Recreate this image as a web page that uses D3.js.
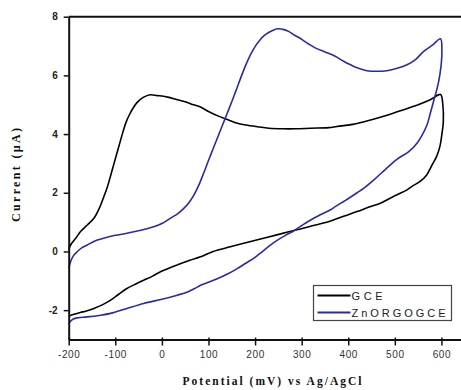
<!DOCTYPE html>
<html>
<head>
<meta charset="utf-8">
<script src="https://cdn.jsdelivr.net/npm/d3@7"></script>
<style>
  html, body { margin: 0; padding: 0; background: #fff; }
  svg { display: block; }
</style>
</head>
<body>
<svg id="chart" width="461" height="390"></svg>
<script>
// ---- data ----
const seriesNames = ["GCE", "ZnORGOGCE"];
const seriesColors = ["#000000", "#2a2aa8"];
const xTicks = [-200, -100, 0, 100, 200, 300, 400, 500, 600];
const yTicks = [-2, 0, 2, 4, 6, 8];
const xLabel = "Potential (mV) vs Ag/AgCl";
const yLabel = "Current (\u00B5A)";

// GCE cyclic voltammogram: [potential mV, current µA]
const gce = [
  [-200, 0.05], [-196, 0.22], [-185, 0.45], [-175, 0.67], [-160, 0.9], [-146, 1.13],
  [-135, 1.45], [-125, 1.85], [-117, 2.2], [-108, 2.7], [-100, 3.15], [-92, 3.6],
  [-84, 4.05], [-77, 4.4], [-70, 4.65], [-62, 4.88], [-53, 5.08], [-40, 5.25], [-25, 5.34],
  [-10, 5.31], [0, 5.30], [15, 5.25], [33, 5.17], [50, 5.1], [68, 5.0], [83, 4.92],
  [100, 4.77], [120, 4.62], [143, 4.48], [160, 4.38], [180, 4.31], [205, 4.25],
  [230, 4.2], [260, 4.18], [287, 4.18], [320, 4.2], [358, 4.22], [376, 4.26],
  [410, 4.33], [448, 4.48], [485, 4.65], [519, 4.83], [550, 5.0], [576, 5.17],
  [598, 5.35], [603, 5.0], [604, 4.4], [601, 4.0], [597, 3.6], [590, 3.25],
  [580, 2.95], [568, 2.6], [555, 2.4], [540, 2.25], [526, 2.1], [500, 1.9],
  [469, 1.64], [448, 1.53], [419, 1.36], [390, 1.2], [362, 1.04], [330, 0.9],
  [290, 0.74], [255, 0.6], [218, 0.45], [180, 0.3], [147, 0.16], [110, 0.0],
  [83, -0.18], [60, -0.3], [33, -0.46], [15, -0.57], [-3, -0.69], [-20, -0.84],
  [-39, -0.98], [-55, -1.1], [-75, -1.26], [-92, -1.45], [-110, -1.66], [-128, -1.82],
  [-146, -1.94], [-162, -2.03], [-175, -2.08], [-188, -2.14], [-196, -2.18], [-200, -2.2]
];

// ZnORGOGCE cyclic voltammogram
const znorgo = [
  [-200, -0.58], [-196, -0.35], [-190, -0.15], [-182, -0.01], [-172, 0.12], [-160, 0.22],
  [-145, 0.35], [-125, 0.45], [-100, 0.55], [-75, 0.62], [-45, 0.72], [-18, 0.84],
  [0, 0.95], [18, 1.13], [35, 1.3], [47, 1.47], [58, 1.66], [68, 1.9], [79, 2.25],
  [90, 2.68], [100, 3.1], [110, 3.5], [120, 3.9], [130, 4.3], [140, 4.7],
  [150, 5.1], [160, 5.52], [170, 5.95], [180, 6.35], [190, 6.7], [200, 6.98],
  [210, 7.2], [220, 7.36], [230, 7.47], [240, 7.55], [250, 7.59], [262, 7.56],
  [272, 7.5], [286, 7.36], [301, 7.22], [315, 7.07], [330, 6.93], [350, 6.8],
  [372, 6.65], [390, 6.48], [405, 6.36], [422, 6.24], [440, 6.16], [460, 6.14],
  [483, 6.16], [505, 6.24], [526, 6.36], [545, 6.55], [562, 6.82], [580, 7.02],
  [598, 7.25], [601, 6.85], [599, 6.3], [594, 5.79], [589, 5.45], [583, 5.11],
  [576, 4.7], [569, 4.31], [558, 3.95], [548, 3.7], [530, 3.4], [505, 3.15],
  [480, 2.8], [455, 2.44], [433, 2.15], [419, 2.0], [395, 1.75], [372, 1.53],
  [362, 1.42], [340, 1.25], [322, 1.1], [300, 0.88], [280, 0.67], [265, 0.55],
  [240, 0.3], [215, -0.01], [200, -0.2], [180, -0.4], [160, -0.6], [143, -0.75],
  [120, -0.92], [100, -1.05], [83, -1.15], [72, -1.25], [55, -1.38], [33, -1.49],
  [0, -1.63], [-39, -1.77], [-75, -1.94], [-110, -2.11], [-135, -2.18], [-160, -2.23],
  [-180, -2.26], [-190, -2.3], [-196, -2.38], [-200, -2.47]
];
const seriesData = [gce, znorgo];

// ---- layout ----
const svg = d3.select("#chart");
const x = d3.scaleLinear().domain([-200, 642]).range([68.7, 461]);
const y = d3.scaleLinear().domain([-3, 8]).range([339.5, 16.7]);

// top frame line
svg.append("line")
  .attr("x1", x(-200)).attr("x2", 461)
  .attr("y1", y(8)).attr("y2", y(8))
  .attr("stroke", "#111").attr("stroke-width", 2);

// curves
const line = d3.line().x(d => x(d[0])).y(d => y(d[1])).curve(d3.curveCatmullRom.alpha(0.5));
seriesData.forEach((s, i) => {
  svg.append("path")
    .datum(s)
    .attr("fill", "none")
    .attr("stroke", seriesColors[i])
    .attr("stroke-width", 1.6)
    .attr("stroke-linejoin", "round")
    .attr("d", line);
});

// x axis
const xAxis = svg.append("g")
  .attr("transform", `translate(0,${y(-3)})`)
  .call(d3.axisBottom(x).tickValues(xTicks).tickSize(6).tickSizeOuter(0).tickPadding(5)
    .tickFormat(d3.format("d")));
xAxis.select(".domain").attr("stroke", "#111").attr("stroke-width", 2);
xAxis.selectAll(".tick line").attr("stroke", "#111").attr("stroke-width", 1.5).attr("y1", -2);
xAxis.selectAll(".tick text")
  .attr("font-family", "Liberation Sans, Arial, sans-serif")
  .attr("font-size", 10).attr("fill", "#333").attr("letter-spacing", 0.6)
  .text(d => d < 0 ? "-" + Math.abs(d) : String(d));

// y axis
const yAxis = svg.append("g")
  .attr("transform", `translate(${x(-200)},0)`)
  .call(d3.axisLeft(y).tickValues(yTicks).tickSize(5).tickSizeOuter(0).tickPadding(6)
    .tickFormat(d3.format("d")));
yAxis.select(".domain").attr("stroke", "#111").attr("stroke-width", 2);
yAxis.selectAll(".tick line").attr("stroke", "#111").attr("stroke-width", 1.5);
yAxis.selectAll(".tick text")
  .attr("font-family", "Liberation Sans, Arial, sans-serif")
  .attr("font-size", 10).attr("font-weight", "bold").attr("fill", "#222")
  .text(d => d < 0 ? "-" + Math.abs(d) : String(d));

// axis labels
svg.append("text")
  .attr("x", 272).attr("y", 385)
  .attr("text-anchor", "middle")
  .attr("font-family", "Liberation Serif, Times New Roman, serif")
  .attr("font-weight", "bold").attr("font-size", 11.5)
  .attr("textLength", 179).attr("lengthAdjust", "spacing")
  .attr("fill", "#111")
  .text(xLabel);

svg.append("text")
  .attr("transform", "translate(20,175) rotate(-90)")
  .attr("text-anchor", "middle")
  .attr("font-family", "Liberation Serif, Times New Roman, serif")
  .attr("font-weight", "bold").attr("font-size", 12)
  .attr("textLength", 94).attr("lengthAdjust", "spacing")
  .attr("fill", "#111")
  .text(yLabel);

// legend
const lg = svg.append("g");
lg.append("rect")
  .attr("x", 313.5).attr("y", 285.5).attr("width", 138).attr("height", 35)
  .attr("fill", "#fff").attr("stroke", "#444").attr("stroke-width", 1.2);
const legendTextLen = [31, 94];
seriesNames.forEach((name, i) => {
  const ly = 295.5 + i * 17;
  lg.append("line")
    .attr("x1", 317.5).attr("x2", 350.5).attr("y1", ly).attr("y2", ly)
    .attr("stroke", seriesColors[i]).attr("stroke-width", 2);
  lg.append("text")
    .attr("x", 351.5).attr("y", ly + 4)
    .attr("font-family", "Liberation Sans, Arial, sans-serif")
    .attr("font-size", 11).attr("fill", "#222")
    .attr("textLength", legendTextLen[i]).attr("lengthAdjust", "spacing")
    .text(name);
});
</script>
</body>
</html>
